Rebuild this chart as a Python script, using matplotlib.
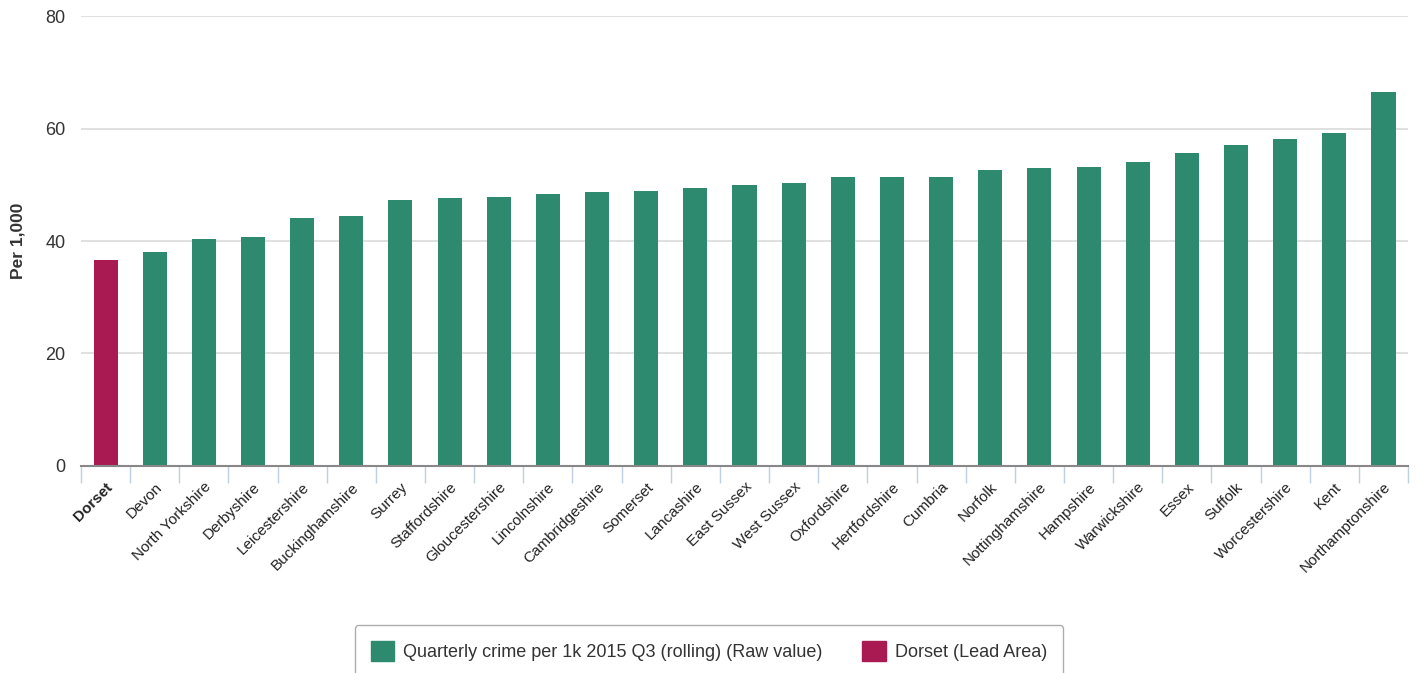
import matplotlib
matplotlib.use("Agg")
import matplotlib.pyplot as plt
from matplotlib.patches import Patch
import numpy as np

plt.rcParams['font.family'] = ['Liberation Sans', 'DejaVu Sans']

areas = [
    "Dorset", "Devon", "North Yorkshire", "Derbyshire", "Leicestershire",
    "Buckinghamshire", "Surrey", "Staffordshire", "Gloucestershire", "Lincolnshire",
    "Cambridgeshire", "Somerset", "Lancashire", "East Sussex", "West Sussex",
    "Oxfordshire", "Hertfordshire", "Cumbria", "Norfolk", "Nottinghamshire",
    "Hampshire", "Warwickshire", "Essex", "Suffolk", "Worcestershire",
    "Kent", "Northamptonshire",
]
crime_per_1k = [
    36.6, 38.0, 40.4, 40.7, 44.1,
    44.4, 47.3, 47.6, 47.8, 48.4,
    48.7, 48.9, 49.4, 50.0, 50.3,
    51.4, 51.4, 51.4, 52.6, 53.0,
    53.2, 54.0, 55.6, 57.1, 58.1,
    59.2, 66.5,
]
lead_area = "Dorset"

green = "#2e8a6e"
maroon = "#a91952"

fig = plt.figure(figsize=(14.18, 6.73), dpi=100)
ax = fig.add_axes([0.0571, 0.3076, 0.9359, 0.6686])

x = np.arange(len(areas))
colors = [maroon if a == lead_area else green for a in areas]
ax.bar(x, crime_per_1k, width=0.49, color=colors, zorder=3)

ax.set_xlim(-0.5, len(areas) - 0.5)
ax.set_ylim(0, 80)
ax.set_yticks([0, 20, 40, 60, 80])
ax.yaxis.grid(True, color="#dddddd", linewidth=1.3, zorder=0)
ax.tick_params(axis='y', length=0, labelsize=13, labelcolor="#333333", pad=11)

# category labels at centres, tick marks at boundaries
ax.set_xticks(x)
ax.set_xticklabels(areas, rotation=45, ha='right', rotation_mode='anchor',
                   fontsize=11, color="#222222")
ax.tick_params(axis='x', which='major', length=0, pad=10)
ax.set_xticks(np.arange(-0.5, len(areas)), minor=True)
ax.tick_params(axis='x', which='minor', length=12, color="#c0d0e0", width=1)
for lbl in ax.get_xticklabels():
    if lbl.get_text() == lead_area:
        lbl.set_fontweight('bold')

for s in ['top', 'right', 'left']:
    ax.spines[s].set_visible(False)
ax.spines['bottom'].set_color("#888888")
ax.spines['bottom'].set_linewidth(1.5)
ax.spines['bottom'].set_zorder(4)

ax.set_ylabel("Per 1,000", fontsize=12.5, fontweight='bold', color="#333333", labelpad=14)

handles = [Patch(color=green, label="Quarterly crime per 1k 2015 Q3 (rolling) (Raw value)"),
           Patch(color=maroon, label="Dorset (Lead Area)")]
leg = fig.legend(handles=handles, loc='lower center', bbox_to_anchor=(0.5, -0.02),
                 ncol=2, fontsize=13, frameon=True, fancybox=True,
                 edgecolor="#999999", handlelength=1.3, handleheight=1.3,
                 columnspacing=2.2, borderpad=0.9, handletextpad=0.5)
for t in leg.get_texts():
    t.set_color("#333333")

fig.savefig("out.png", dpi=100)
